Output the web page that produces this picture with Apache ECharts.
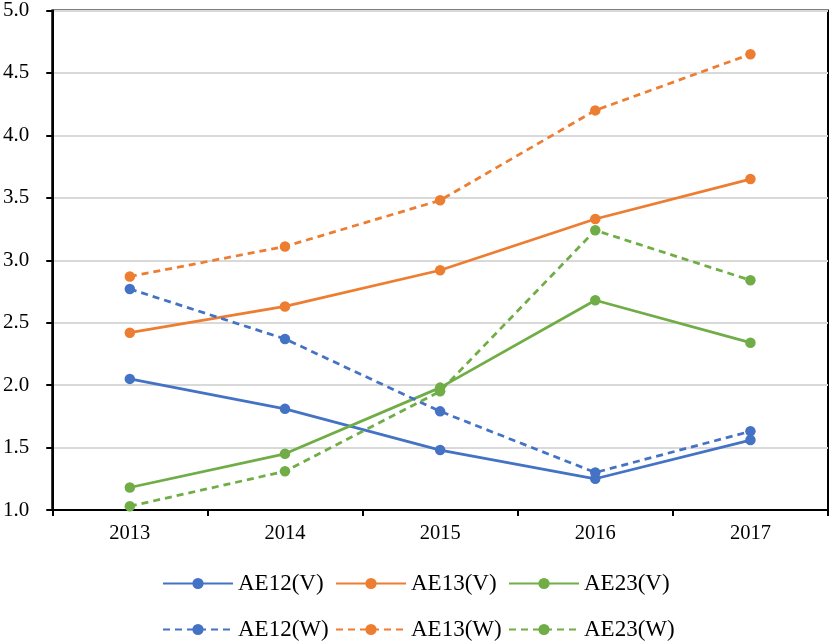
<!DOCTYPE html>
<html>
<head>
<meta charset="utf-8">
<script src="https://cdn.jsdelivr.net/npm/echarts@6/dist/echarts.min.js"></script>
<style>
  html, body { margin: 0; padding: 0; background: #fff; }
  #chart { width: 832px; height: 641px; }
</style>
</head>
<body>
<div id="chart"></div>
<script>
// Years on the category axis
const years = ['2013', '2014', '2015', '2016', '2017'];

// Solid series (V)
const ae12V = [2.05, 1.81, 1.48, 1.25, 1.56];
const ae13V = [2.42, 2.63, 2.92, 3.33, 3.65];
const ae23V = [1.18, 1.45, 1.98, 2.68, 2.34];

// Dashed series (W)
const ae12W = [2.77, 2.37, 1.79, 1.30, 1.63];
const ae13W = [2.87, 3.11, 3.48, 4.20, 4.65];
const ae23W = [1.03, 1.31, 1.95, 3.24, 2.84];

// Legend layout: three columns, two rows
const legendRows = [
  ['AE12(V)', 'AE13(V)', 'AE23(V)'],
  ['AE12(W)', 'AE13(W)', 'AE23(W)']
];
const legendCols = [162, 335, 508];
const legendTops = [572, 618];

const BLUE = '#4472C4', ORANGE = '#ED7D31', GREEN = '#70AD47';
const FONT = 'Liberation Serif';

function lineSeries(name, data, color, dashed) {
  return {
    name: name,
    type: 'line',
    data: data,
    symbol: 'circle',
    symbolSize: 10.5,
    itemStyle: { color: color },
    lineStyle: { color: color, width: 2.75, type: dashed ? [7, 5] : 'solid' },
    emphasis: { disabled: true },
    animation: false
  };
}

// One legend component per entry, so every column lines up exactly
const legends = [];
legendRows.forEach((row, r) => {
  row.forEach((name, c) => {
    legends.push({
      left: legendCols[c],
      top: legendTops[r],
      padding: 0,
      itemWidth: 70,
      itemHeight: 14,
      textStyle: { fontFamily: FONT, fontSize: 23, color: '#000' },
      data: [name]
    });
  });
});

const chart = echarts.init(document.getElementById('chart'));
chart.setOption({
  backgroundColor: '#fff',
  animation: false,
  grid: {
    left: 51, right: 4, top: 8, bottom: 131,
    show: true, borderColor: '#000', borderWidth: 2, backgroundColor: 'transparent'
  },
  legend: legends,
  xAxis: {
    type: 'category',
    data: years,
    boundaryGap: true,
    axisLine: { lineStyle: { color: '#000', width: 2 } },
    axisTick: { show: true, alignWithLabel: false, length: 6, lineStyle: { color: '#000', width: 2 } },
    axisLabel: { fontFamily: FONT, fontSize: 20.5, color: '#000', margin: 13 },
    splitLine: { show: false }
  },
  yAxis: {
    type: 'value',
    min: 1.0, max: 5.0, interval: 0.5,
    axisLine: { show: true, lineStyle: { color: '#000', width: 2 } },
    axisTick: { show: true, length: 6, lineStyle: { color: '#000', width: 2 } },
    axisLabel: {
      fontFamily: FONT, fontSize: 21, color: '#000', margin: 23,
      formatter: v => v.toFixed(1)
    },
    splitLine: { show: true, lineStyle: { color: '#d9d9d9', width: 2 } }
  },
  series: [
    lineSeries('AE12(V)', ae12V, BLUE, false),
    lineSeries('AE13(V)', ae13V, ORANGE, false),
    lineSeries('AE23(V)', ae23V, GREEN, false),
    lineSeries('AE12(W)', ae12W, BLUE, true),
    lineSeries('AE13(W)', ae13W, ORANGE, true),
    lineSeries('AE23(W)', ae23W, GREEN, true)
  ]
});
</script>
</body>
</html>
